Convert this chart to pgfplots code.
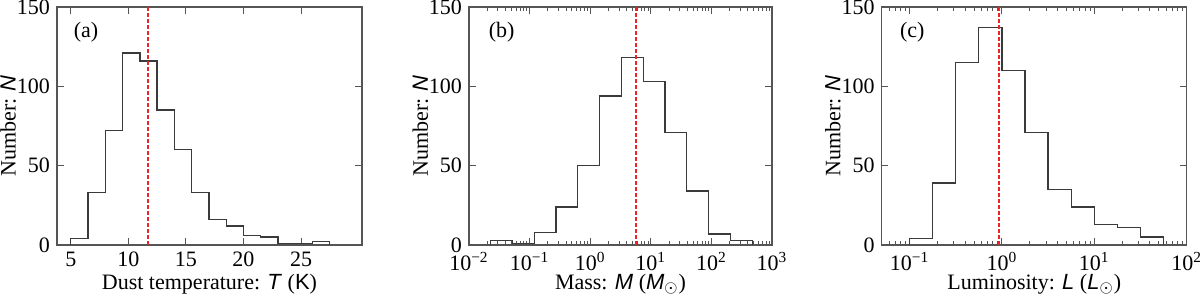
\documentclass[border=0pt]{standalone}
\usepackage{fontspec}
\setmainfont{Liberation Serif}
\setsansfont{Liberation Sans}
\usepackage{pgfplots}
\pgfplotsset{compat=1.18}

\definecolor{histc}{HTML}{3A3A3A}
\definecolor{framec}{HTML}{555555}
\definecolor{redl}{HTML}{E8262A}

\newcommand{\tp}[1]{10\textsuperscript{#1}}

\pgfplotsset{
  myax/.style={
    scale only axis, height=119pt, anchor=south west,
    ymin=0, ymax=150, ytick={0,50,100,150}, yticklabels={0,50,100,150},
    tick align=inside, tick pos=both,
    major tick length=3.3pt, minor tick length=1.8pt,
    axis line style={framec, line width=0.6pt},
    every tick/.style={framec, line width=0.5pt},
    tick label style={font=\fontsize{11}{13}\selectfont},
    label style={font=\fontsize{11}{13}\selectfont},
    ylabel style={at={(axis description cs:-0.16,0.5)}, anchor=center},
    xlabel style={at={(axis description cs:0.5,-0.094)}, anchor=north},
    ylabel={Number: \textsf{\itshape N}},
  },
  hist/.style={const plot, no marks, histc, line width=0.65pt},
  med/.style={no marks, redl, line width=1pt, dash pattern=on 2pt off 1pt},
}

\begin{document}
\begin{tikzpicture}
\path[use as bounding box] (0,0) rectangle (600pt,147pt);

% (a) Dust temperature
\begin{axis}[myax, at={(28.5pt,24.5pt)}, width=152.5pt,
  xmin=3.8, xmax=30.3, xtick={5,10,15,20,25}, xticklabels={5,10,15,20,25},
  xlabel={Dust temperature: \textsf{\itshape T} (\textsf{K})}]
\addplot[hist] coordinates {
(5,0) (5,4) (6.5,33) (8,72) (9.5,121) (11,116) (12.5,85) (14,60) (15.5,33)
(17,16) (18.5,12) (20,6) (21.5,5) (23,1) (24.5,1) (26,2) (27.5,0)};
\addplot[med] coordinates {(11.7,0) (11.7,150)};
\node[font=\fontsize{11}{13}\selectfont] at (rel axis cs:0.095,0.895) {(a)};
\end{axis}

% (b) Mass
\begin{axis}[myax, at={(234.5pt,24.5pt)}, width=151.5pt,
  xmode=log, log basis x=10, xmin=0.01, xmax=1000,
  xtick={0.01,0.1,1,10,100,1000},
  xticklabels={\tp{−2},\tp{−1},\tp{0},\tp{1},\tp{2},\tp{3}},
  minor xtick={0.02,0.03,0.04,0.05,0.06,0.07,0.08,0.09,
               0.2,0.3,0.4,0.5,0.6,0.7,0.8,0.9,
               2,3,4,5,6,7,8,9,20,30,40,50,60,70,80,90,
               200,300,400,500,600,700,800,900},
  xlabel={Mass: \textsf{\itshape M} (\textsf{\itshape M}\textsubscript{$\odot$})}]
\addplot[hist] coordinates {
(0.02275,0) (0.02275,3) (0.05209,1) (0.1192,8) (0.2729,24) (0.6248,50)
(1.4307,94) (3.2756,118) (7.499,103) (17.168,71) (39.30,34) (89.95,7)
(205.9,3) (471.5,0)};
\addplot[med] coordinates {(5.7,0) (5.7,150)};
\node[font=\fontsize{11}{13}\selectfont] at (rel axis cs:0.108,0.895) {(b)};
\end{axis}

% (c) Luminosity
\begin{axis}[myax, at={(440.85pt,24.5pt)}, width=152.5pt,
  xmode=log, log basis x=10, xmin=0.05, xmax=100,
  xtick={0.1,1,10,100},
  xticklabels={\tp{−1},\tp{0},\tp{1},\tp{2}},
  minor xtick={0.06,0.07,0.08,0.09,
               0.2,0.3,0.4,0.5,0.6,0.7,0.8,0.9,
               2,3,4,5,6,7,8,9,20,30,40,50,60,70,80,90},
  xlabel={Luminosity: \textsf{\itshape L} (\textsf{\itshape L}\textsubscript{$\odot$})}]
\addplot[hist] coordinates {
(0.1,0) (0.1,4) (0.1778,39) (0.3162,115) (0.5623,137) (1,110) (1.778,71)
(3.162,35) (5.623,24) (10,13) (17.78,11) (31.62,5) (56.23,0)};
\addplot[med] coordinates {(0.94,0) (0.94,150)};
\node[font=\fontsize{11}{13}\selectfont] at (rel axis cs:0.10,0.895) {(c)};
\end{axis}
\end{tikzpicture}
\end{document}
